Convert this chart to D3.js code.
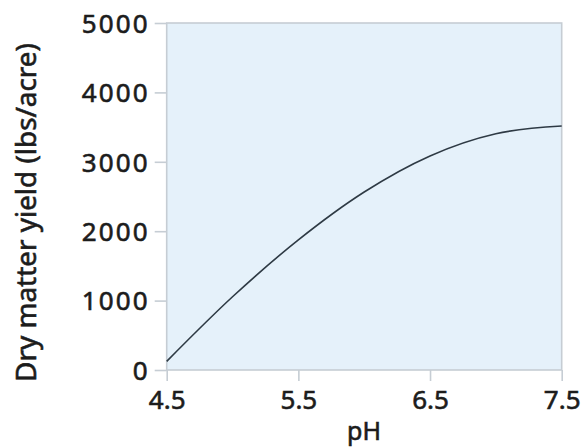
<!DOCTYPE html>
<html>
<head>
<meta charset="utf-8">
<script src="https://cdn.jsdelivr.net/npm/d3@7"></script>
<style>
  html, body { margin: 0; padding: 0; background: #ffffff; }
  svg { display: block; }
  text { font-family: "Noto Sans", "Open Sans", sans-serif; fill: #1c1c1c; font-weight: 400; }
</style>
</head>
<body>
<svg id="chart" width="583" height="447"></svg>
<script>
// Data
const pH = [4.5, 5.0, 5.5, 6.0, 6.5, 7.0, 7.5];
const yieldLbs = [125, 1055, 1875, 2565, 3085, 3405, 3515];
const xTicks = [4.5, 5.5, 6.5, 7.5];
const yTicks = [0, 1000, 2000, 3000, 4000, 5000];
const xTitle = "pH";
const yTitle = "Dry matter yield (lbs/acre)";

const svg = d3.select("#chart");
const margin = { left: 166.7, right: 21.3, top: 23, bottom: 77 };
const W = 583, H = 447;
const x = d3.scaleLinear().domain([4.5, 7.5]).range([margin.left, W - margin.right]);
const y = d3.scaleLinear().domain([0, 5000]).range([H - margin.bottom, margin.top]);

const axisColor = "#c6cdd4";
const textColor = "#1c1c1c";
const textStroke = 0.6;

// plot background
svg.append("rect")
  .attr("x", x(4.5)).attr("y", y(5000))
  .attr("width", x(7.5) - x(4.5)).attr("height", y(0) - y(5000))
  .attr("fill", "#e5f1fa");

// plot border
svg.append("rect")
  .attr("x", x(4.5)).attr("y", y(5000))
  .attr("width", x(7.5) - x(4.5)).attr("height", y(0) - y(5000))
  .attr("fill", "none").attr("stroke", axisColor).attr("stroke-width", 1.6);

// axes
const xAxis = svg.append("g")
  .attr("transform", `translate(0,${y(0)})`)
  .call(d3.axisBottom(x).tickValues(xTicks).tickFormat(d3.format(".1f")).tickSize(11).tickPadding(0));
const yAxis = svg.append("g")
  .attr("transform", `translate(${x(4.5)},0)`)
  .call(d3.axisLeft(y).tickValues(yTicks).tickFormat(d3.format("d")).tickSize(12).tickPadding(0));

[xAxis, yAxis].forEach(g => {
  g.select(".domain").remove();
  g.selectAll(".tick line").attr("stroke", axisColor).attr("stroke-width", 1.6);
  g.selectAll(".tick text")
    .attr("fill", textColor)
    .attr("stroke", textColor).attr("stroke-width", textStroke)
    .style("font-size", "26px")
    .style("font-family", "'Noto Sans', 'Open Sans', sans-serif")
    .style("font-weight", 400);
});
xAxis.selectAll(".tick text").attr("y", 39).attr("dy", 0);
yAxis.selectAll(".tick text").attr("x", -19).attr("dy", "0.36em")
  .attr("textLength", 66).attr("lengthAdjust", "spacing");
yAxis.selectAll(".tick text").filter(d => d === 0).attr("textLength", null);

// curve
const line = d3.line()
  .x((d, i) => x(pH[i]))
  .y(d => y(d))
  .curve(d3.curveMonotoneX);
svg.append("path")
  .datum(yieldLbs)
  .attr("d", line)
  .attr("fill", "none")
  .attr("stroke", "#2e3a44")
  .attr("stroke-width", 1.6);

// titles
svg.append("text")
  .attr("x", 364).attr("y", 440)
  .attr("text-anchor", "middle")
  .attr("stroke", textColor).attr("stroke-width", textStroke)
  .style("font-size", "25px")
  .text(xTitle);

const yt = svg.append("text")
  .attr("transform", `translate(36,${(43 + 382) / 2}) rotate(-90)`)
  .attr("text-anchor", "middle")
  .attr("stroke", textColor).attr("stroke-width", textStroke)
  .style("font-size", "25px")
  .text(yTitle);
// fit the title to the length seen in the reference
const len = yt.node().getComputedTextLength();
if (len > 0) yt.style("font-size", (25 * 339 / len).toFixed(2) + "px");
</script>
</body>
</html>
